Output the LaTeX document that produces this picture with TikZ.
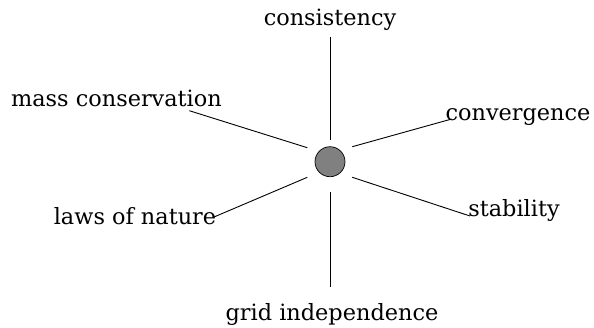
\documentclass[tikz,border=0pt]{standalone}
\usepackage{fontspec}
\setmainfont{DejaVu Serif}
\begin{document}
\begin{tikzpicture}[x=1pt,y=-1pt,
  lbl/.style={anchor=base,inner sep=0pt,font=\fontsize{22.4}{26}\selectfont},
  edge/.style={draw=black,line width=0.9pt}]
\useasboundingbox (0,0) rectangle (594,327);
\node[circle,draw=black,fill=black!50,minimum size=30pt,inner sep=0pt,line width=0.7pt] (c) at (330,161.7) {};
\node[lbl] (cons) at (330,25) {consistency};
\node[lbl] (mass) at (116.5,106) {mass conservation};
\node[lbl] (conv) at (518,120) {convergence};
\node[lbl] (laws) at (135,224) {laws of nature};
\node[lbl] (stab) at (514,216.7) {stability};
\node[lbl] (grid) at (332,320) {grid independence};
\coordinate (cT) at (330,140);
\coordinate (cB) at (330,192);
\coordinate (cUL) at (307.3,147.7);
\coordinate (cLL) at (307.3,177.3);
\coordinate (cUR) at (352.3,146.7);
\coordinate (cLR) at (352.3,177.3);
\coordinate (eT) at (330,36.7);
\coordinate (eB) at (330,286.7);
\coordinate (eMass) at (189.3,110.7);
\coordinate (eLaws) at (213.3,217.3);
\coordinate (eConv) at (451.7,119);
\coordinate (eStab) at (470,216);
\draw[edge] (cT) -- (eT);
\draw[edge] (cB) -- (eB);
\draw[edge] (cUL) -- (eMass);
\draw[edge] (cLL) -- (eLaws);
\draw[edge] (cUR) -- (eConv);
\draw[edge] (cLR) -- (eStab);
\end{tikzpicture}
\end{document}
